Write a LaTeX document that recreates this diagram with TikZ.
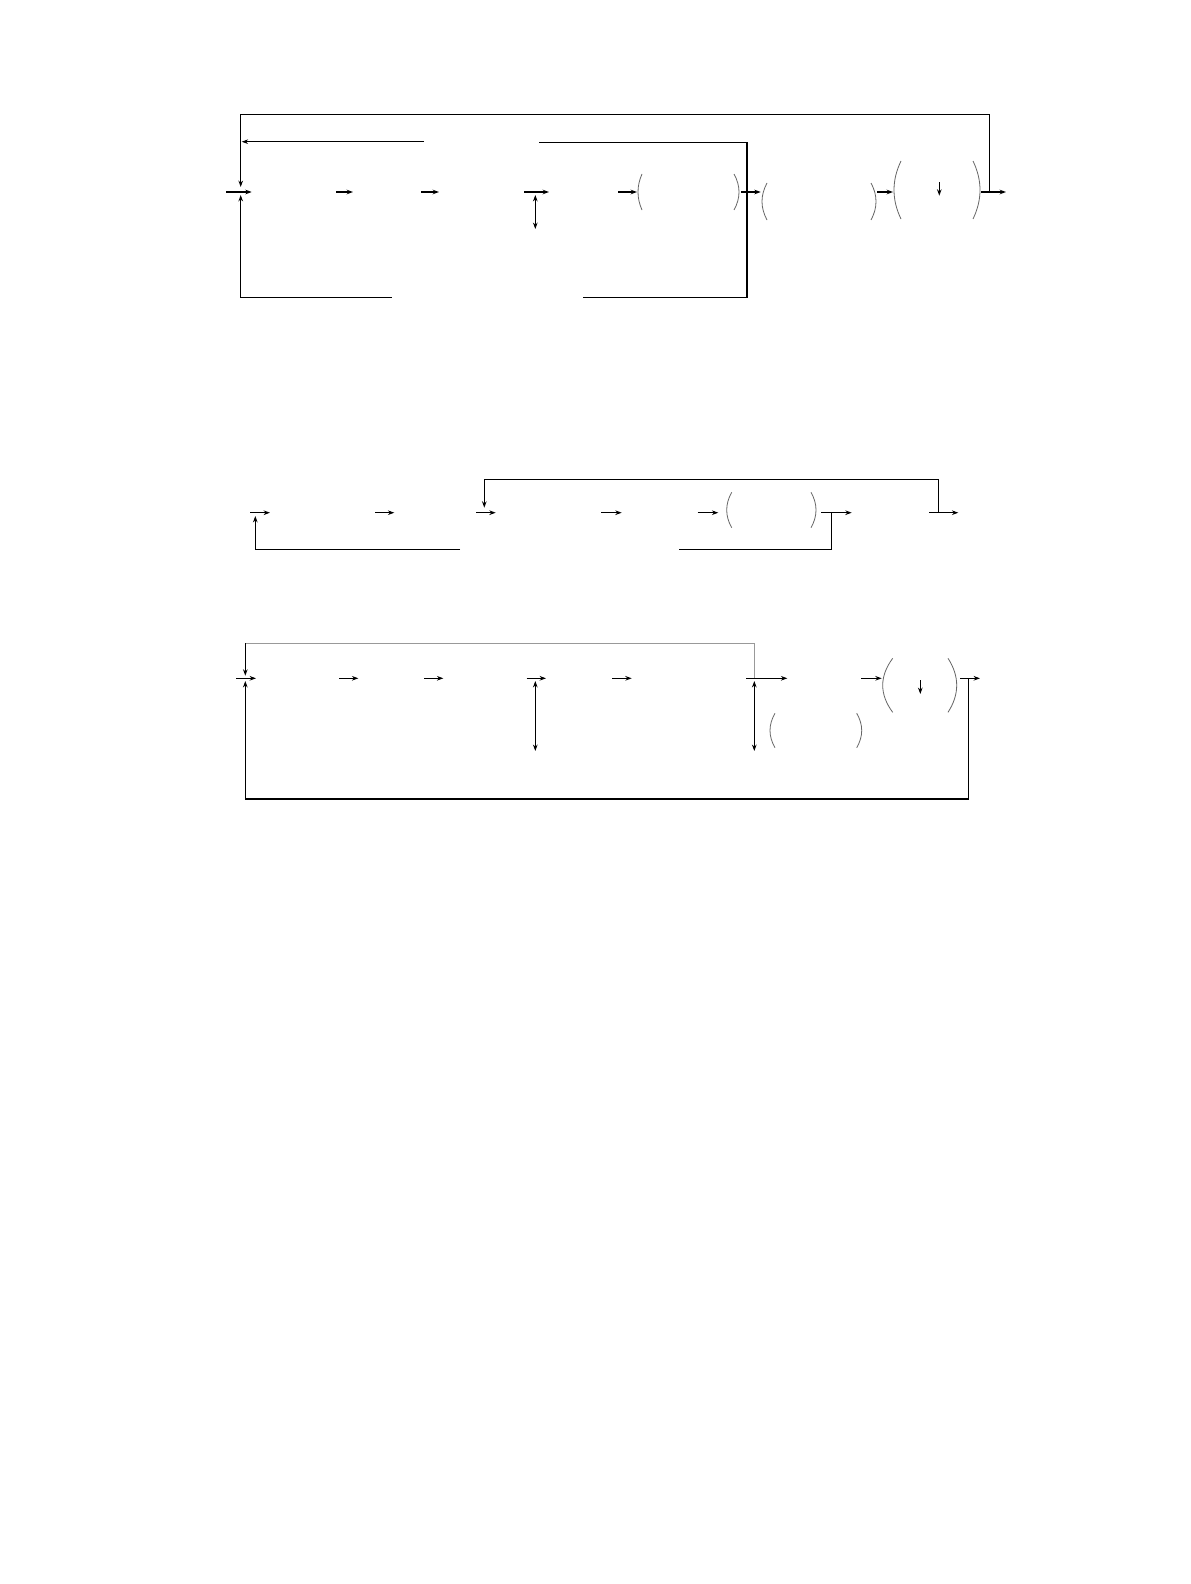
\documentclass[tikz,border=0pt]{standalone}
\usetikzlibrary{arrows.meta}
\tikzset{
  ln/.style={line width=0.65pt, black},
  arr/.style={ln, -{Stealth[length=3.2pt,width=2.3pt]}},
  darr/.style={ln, {Stealth[length=3.2pt,width=2.3pt]}-{Stealth[length=3.2pt,width=2.3pt]}},
  parenline/.style={line width=0.4pt, black!60},
  grayln/.style={line width=0.6pt, black!40}
}
\newcommand\parenarc[4]{%
  \pgfmathsetmacro\pcx{#1+(#2-#1)*4/3}%
  \pgfmathsetmacro\pya{#3+(#4-#3)/3}%
  \pgfmathsetmacro\pyb{#3+2*(#4-#3)/3}%
  \draw[parenline] (#1,#3) .. controls (\pcx,\pya) and (\pcx,\pyb) .. (#1,#4);}
\begin{document}
\begin{tikzpicture}[x=0.5pt,y=-0.5pt]
\useasboundingbox[fill=white] (0,0) rectangle (1190,1584);

% ---------------- Diagram 1 ----------------
\coordinate (d1top) at (989.3,192);
\draw[arr] (d1top) -- (989.3,114.3) -- (240.7,114.3) -- (240.7,187);
\draw[arr] (424,141.7) -- (241.7,141.7);
\draw[ln] (539,142.3) -- (747,142.3) -- (747,297.3) -- (583,297.3);
\draw[arr] (391.7,297.3) -- (240.7,297.3) -- (240.7,195);
\draw[arr] (226,192) -- (251.7,192);
\draw[arr] (336,192) -- (353,192);
\draw[arr] (421,192) -- (439,192);
\draw[arr] (524,192) -- (549,192);
\draw[arr] (618,192) -- (637,192);
\draw[arr] (741,192) -- (760.7,192);
\draw[arr] (877,192) -- (893,192);
\draw[arr] (981,192) -- (1006,192);
\draw[darr] (535.3,195) -- (535.3,229);
\draw[arr] (939.3,182) -- (939.3,195.7);
\parenarc{642}{638}{174}{210}
\parenarc{734}{739}{174}{210}
\parenarc{767}{762}{183}{220}
\parenarc{871}{876}{183}{220}
\parenarc{901}{894}{161}{219}
\parenarc{973}{980}{161}{219}

% ---------------- Diagram 2 ----------------
\draw[arr] (938.3,512.7) -- (938.3,479.3) -- (484.3,479.3) -- (484.3,507.7);
\draw[arr] (250,512.7) -- (270,512.7);
\draw[arr] (460,549.3) -- (255.3,549.3) -- (255.3,516);
\draw[arr] (375,512.7) -- (394.3,512.7);
\draw[arr] (476,512.7) -- (495.7,512.7);
\draw[arr] (601,512.7) -- (621.7,512.7);
\draw[arr] (697.7,512.7) -- (718.3,512.7);
\draw[arr] (821,512.7) -- (851.7,512.7);
\draw[arr] (929,512.7) -- (958.3,512.7);
\draw[ln] (831.3,512.7) -- (831.3,549.3) -- (679.3,549.3);
\parenarc{731.7}{726.7}{492.3}{527.7}
\parenarc{811}{816}{492.3}{527.7}

% ---------------- Diagram 3 ----------------
\draw[grayln] (754.3,678.3) -- (754.3,643.3) -- (245.3,643.3);
\draw[arr] (245.3,643.3) -- (245.3,675.7);
\draw[arr] (236,678.3) -- (256,678.3);
\draw[arr] (968.7,678.3) -- (968.7,799) -- (245.3,799) -- (245.3,681);
\draw[arr] (339,678.3) -- (358.3,678.3);
\draw[arr] (424,678.3) -- (443.3,678.3);
\draw[arr] (526.7,678.3) -- (546,678.3);
\draw[arr] (612.3,678.3) -- (631.7,678.3);
\draw[arr] (746,678.3) -- (787.3,678.3);
\draw[arr] (861,678.3) -- (881.7,678.3);
\draw[arr] (960,678.3) -- (980,678.3);
\draw[darr] (535.3,681) -- (535.3,751);
\draw[darr] (754.3,681) -- (754.3,751);
\draw[arr] (920.3,680) -- (920.3,694);
\parenarc{775}{770}{713.3}{747.7}
\parenarc{856.7}{861.7}{713.3}{747.7}
\parenarc{892.7}{882.7}{658.3}{712.3}
\parenarc{948}{956.7}{658.3}{712.3}
\end{tikzpicture}
\end{document}
